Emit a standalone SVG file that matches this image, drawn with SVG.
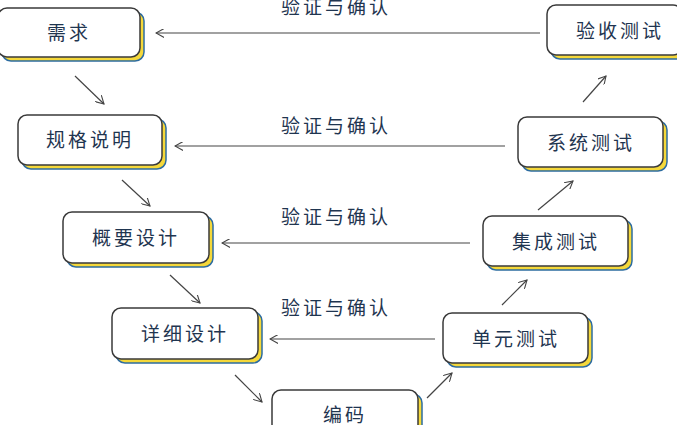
<svg xmlns="http://www.w3.org/2000/svg" width="677" height="425" viewBox="0 0 677 425">
<defs>
<style>
.sh{fill:#f5d83a;stroke:#2d6ca0;stroke-width:1.5}
.bx{fill:#fff;stroke:#3a3a3a;stroke-width:1.5}
.t{font-family:"Noto Sans CJK SC",sans-serif;font-size:19px;fill:#1f3550;text-anchor:middle;letter-spacing:3px}
.c{stroke:#444;stroke-width:1.2;fill:none;marker-end:url(#a)}
</style>
<marker id="a" viewBox="0 0 10 10" refX="9" refY="5" markerWidth="9" markerHeight="9" orient="auto" markerUnits="userSpaceOnUse"><path d="M0,0L9,5L0,10" fill="none" stroke="#444" stroke-width="1.2"/></marker>
</defs>
<rect width="677" height="425" fill="#fff"/>
<g id="n1"><rect class="sh" x="2" y="12" width="142" height="49" rx="9"/><rect class="bx" x="-2" y="8" width="142" height="49" rx="9"/><text class="t" x="69" y="40">需求</text></g>
<g id="n2"><rect class="sh" x="22" y="119" width="144" height="50" rx="9"/><rect class="bx" x="18" y="115" width="144" height="50" rx="9"/><text class="t" x="90" y="147">规格说明</text></g>
<g id="n3"><rect class="sh" x="67" y="216" width="146" height="51" rx="9"/><rect class="bx" x="63" y="212" width="146" height="51" rx="9"/><text class="t" x="136" y="245">概要设计</text></g>
<g id="n4"><rect class="sh" x="116" y="312" width="146" height="51" rx="9"/><rect class="bx" x="112" y="308" width="146" height="51" rx="9"/><text class="t" x="185" y="341">详细设计</text></g>
<g id="n5"><rect class="sh" x="276" y="394" width="146" height="50" rx="9"/><rect class="bx" x="272" y="390" width="146" height="50" rx="9"/><text class="t" x="345" y="422">编码</text></g>
<g id="n6"><rect class="sh" x="447" y="317" width="145" height="50" rx="9"/><rect class="bx" x="443" y="313" width="145" height="50" rx="9"/><text class="t" x="516" y="346">单元测试</text></g>
<g id="n7"><rect class="sh" x="487" y="220" width="145" height="50" rx="9"/><rect class="bx" x="483" y="216" width="145" height="50" rx="9"/><text class="t" x="556" y="249">集成测试</text></g>
<g id="n8"><rect class="sh" x="522" y="121" width="145" height="50" rx="9"/><rect class="bx" x="518" y="117" width="145" height="50" rx="9"/><text class="t" x="591" y="150">系统测试</text></g>
<g id="n9"><rect class="sh" x="551" y="9" width="135" height="50" rx="9"/><rect class="bx" x="547" y="5" width="135" height="50" rx="9"/><text class="t" x="620" y="38">验收测试</text></g>
<g id="labels" class="t">
<text class="t" x="336" y="14">验证与确认</text>
<text class="t" x="336" y="133">验证与确认</text>
<text class="t" x="336" y="224">验证与确认</text>
<text class="t" x="336" y="315">验证与确认</text>
</g>
<g id="connectors">
<path class="c" d="M540,33H156"/>
<path class="c" d="M505,146H175"/>
<path class="c" d="M470,243H222"/>
<path class="c" d="M435,339H270"/>
<path class="c" d="M75,76L104,104"/>
<path class="c" d="M122,180L150,206"/>
<path class="c" d="M170,275L200,303"/>
<path class="c" d="M235,375L262,402"/>
<path class="c" d="M427,398L452,373"/>
<path class="c" d="M502,305L527,280"/>
<path class="c" d="M538,210L573,181"/>
<path class="c" d="M583,102L606,76"/>
</g>
</svg>
